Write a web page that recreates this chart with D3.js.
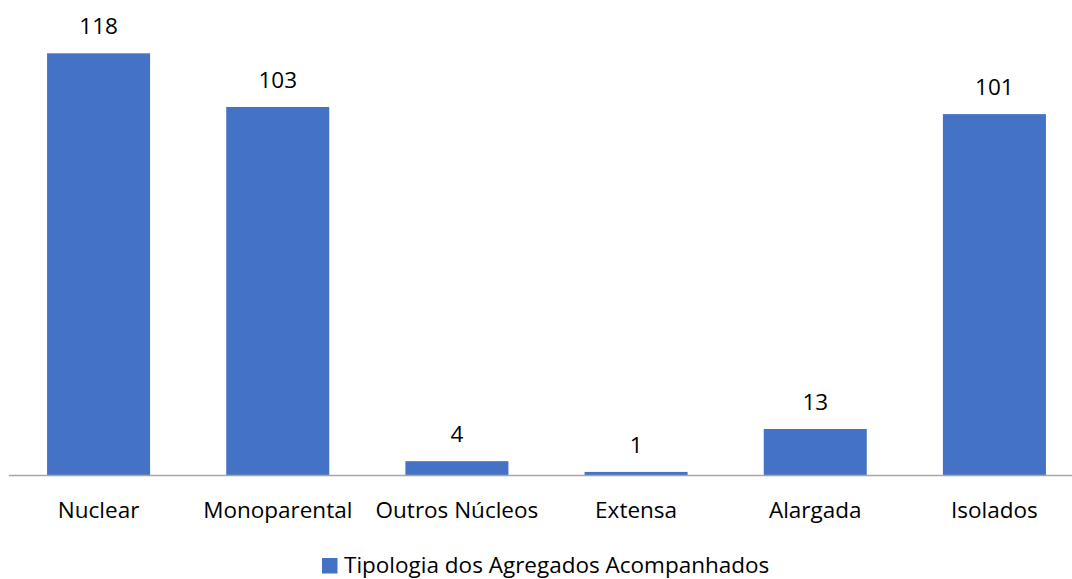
<!DOCTYPE html>
<html>
<head>
<meta charset="utf-8">
<script src="https://cdn.jsdelivr.net/npm/d3@7"></script>
<style>
  html, body { margin: 0; padding: 0; background: #fff; }
  svg { display: block; }
  text { font-family: "Open Sans", "Noto Sans", sans-serif; fill: #000; }
</style>
</head>
<body>
<svg id="chart" width="1072" height="579"></svg>
<script>
const categories = ["Nuclear", "Monoparental", "Outros Núcleos", "Extensa", "Alargada", "Isolados"];
const values = [118, 103, 4, 1, 13, 101];
const seriesName = "Tipologia dos Agregados Acompanhados";

const W = 1072, H = 579;
const svg = d3.select("#chart");
const baseY = 475.5;
const x = d3.scaleBand().domain(categories).range([9, 1084]).paddingInner(0.425).paddingOuter(0.2125);
const y = d3.scaleLinear().domain([0, 118]).range([baseY, 53.3]);
const fs = 22.5;

// bars
svg.append("g").selectAll("rect").data(values).join("rect")
  .attr("x", (d, i) => x(categories[i]))
  .attr("y", d => y(d))
  .attr("width", x.bandwidth())
  .attr("height", d => baseY - y(d))
  .attr("fill", "#4472C4");

// axis line
const axis = d3.axisBottom(x).tickSize(0).tickPadding(27);
const ag = svg.append("g").attr("transform", `translate(0,${baseY})`).call(axis);
ag.select(".domain").attr("stroke", "#a6a6a6").attr("stroke-width", 1.3).attr("d", "M9,0H1072");
ag.selectAll(".tick text").attr("font-size", fs).attr("font-family", "Open Sans").attr("fill", "#000");

// value labels
svg.append("g").selectAll("text").data(values).join("text")
  .attr("x", (d, i) => x(categories[i]) + x.bandwidth() / 2)
  .attr("y", d => y(d) - 19)
  .attr("text-anchor", "middle")
  .attr("font-size", fs)
  .text(d => d);

// legend
const lg = svg.append("g");
lg.append("rect").attr("x", 322).attr("y", 558).attr("width", 15.5).attr("height", 15.5).attr("fill", "#4472C4");
lg.append("text").attr("x", 344).attr("y", 573).attr("font-size", fs).text(seriesName);
</script>
</body>
</html>
